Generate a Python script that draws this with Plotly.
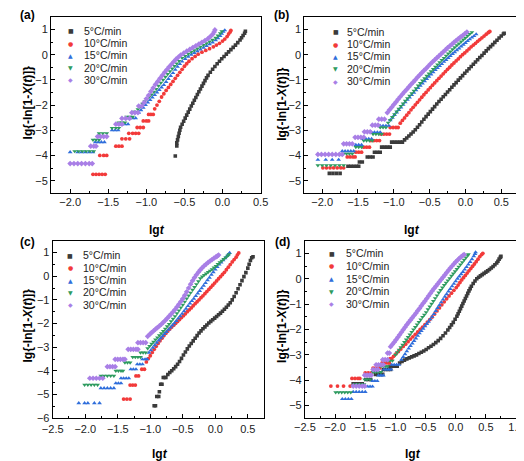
import plotly.graph_objects as go

# ---------------- data (lg t , lg{-ln[1-X(t)]}) ----------------
rates = ["5", "10", "15", "20", "30"]

a05 = [(-0.62,-4.02),(-0.60,-3.62),(-0.60,-3.50),(-0.59,-3.38),(-0.58,-3.25),(-0.57,-3.12),(-0.56,-3.00),(-0.55,-2.88),(-0.53,-2.76),(-0.51,-2.64),(-0.49,-2.52),(-0.47,-2.40),(-0.45,-2.28),(-0.43,-2.16),(-0.41,-2.04),(-0.39,-1.93),(-0.37,-1.81),(-0.35,-1.70),(-0.33,-1.58),(-0.31,-1.47),(-0.29,-1.36),(-0.27,-1.25),(-0.25,-1.14),(-0.23,-1.03),(-0.21,-0.92),(-0.19,-0.82),(-0.16,-0.70),(-0.13,-0.58),(-0.10,-0.47),(-0.07,-0.36),(-0.04,-0.26),(-0.01,-0.16),(0.02,-0.07),(0.05,0.02),(0.08,0.11),(0.11,0.20),(0.14,0.29),(0.17,0.38),(0.20,0.48),(0.23,0.58),(0.25,0.67),(0.27,0.76),(0.29,0.85),(0.30,0.93)]
a10 = [(-1.70,-4.75),(-1.66,-4.75),(-1.62,-4.75),(-1.58,-4.75),(-1.54,-4.75),(-1.61,-4.00),(-1.56,-4.00),(-1.52,-4.00),(-1.40,-3.63),(-1.36,-3.63),(-1.32,-3.63),(-1.32,-3.34),(-1.27,-3.34),(-1.22,-3.34),(-1.23,-3.12),(-1.18,-3.12),(-1.14,-3.12),(-1.10,-3.12),(-1.12,-2.89),(-1.08,-2.89),(-1.04,-2.89),(-1.04,-2.63),(-1.00,-2.63),(-0.97,-2.63),(-0.97,-2.37),(-0.94,-2.37),(-0.91,-2.37),(-0.89,-2.15),(-0.86,-2.00),(-0.83,-1.85),(-0.80,-1.68),(-0.77,-1.55),(-0.74,-1.42),(-0.71,-1.30),(-0.68,-1.18),(-0.65,-1.06),(-0.62,-0.94),(-0.59,-0.82),(-0.56,-0.70),(-0.53,-0.58),(-0.50,-0.46),(-0.47,-0.36),(-0.44,-0.26),(-0.40,-0.16),(-0.36,-0.07),(-0.32,0.02),(-0.27,0.10),(-0.22,0.17),(-0.17,0.24),(-0.12,0.31),(-0.08,0.38),(-0.04,0.45),(0.00,0.54),(0.03,0.62),(0.06,0.72),(0.08,0.82),(0.10,0.90),(0.11,0.96)]
a15 = [(-2.00,-3.87),(-1.90,-3.87),(-1.85,-3.87),(-1.80,-3.87),(-1.75,-3.87),(-1.70,-3.87),(-1.67,-3.47),(-1.63,-3.47),(-1.59,-3.47),(-1.55,-3.47),(-1.45,-3.00),(-1.41,-3.00),(-1.37,-3.00),(-1.36,-2.76),(-1.32,-2.76),(-1.28,-2.76),(-1.24,-2.76),(-1.22,-2.52),(-1.18,-2.52),(-1.14,-2.52),(-1.10,-2.30),(-1.07,-2.20),(-1.04,-2.10),(-1.01,-2.00),(-0.98,-1.90),(-0.95,-1.80),(-0.92,-1.70),(-0.89,-1.60),(-0.86,-1.50),(-0.83,-1.40),(-0.80,-1.30),(-0.77,-1.20),(-0.74,-1.08),(-0.71,-0.96),(-0.68,-0.84),(-0.65,-0.73),(-0.62,-0.60),(-0.59,-0.48),(-0.56,-0.37),(-0.53,-0.27),(-0.49,-0.17),(-0.45,-0.08),(-0.41,0.00),(-0.37,0.07),(-0.33,0.14),(-0.29,0.21),(-0.25,0.28),(-0.21,0.35),(-0.17,0.42),(-0.13,0.49),(-0.09,0.57),(-0.06,0.65),(-0.03,0.74),(-0.01,0.83),(0.01,0.91),(0.03,0.97)]
a20 = [(-1.94,-3.83),(-1.89,-3.83),(-1.84,-3.83),(-1.79,-3.83),(-1.74,-3.83),(-1.69,-3.83),(-1.70,-3.38),(-1.66,-3.38),(-1.62,-3.38),(-1.62,-3.12),(-1.57,-3.12),(-1.52,-3.12),(-1.45,-2.91),(-1.40,-2.91),(-1.36,-2.91),(-1.36,-2.69),(-1.32,-2.69),(-1.28,-2.69),(-1.26,-2.47),(-1.22,-2.47),(-1.18,-2.47),(-1.17,-2.27),(-1.14,-2.27),(-1.11,-2.17),(-1.08,-2.05),(-1.05,-1.95),(-1.02,-1.85),(-0.99,-1.76),(-0.96,-1.67),(-0.93,-1.58),(-0.90,-1.47),(-0.87,-1.36),(-0.84,-1.24),(-0.81,-1.12),(-0.78,-1.00),(-0.75,-0.88),(-0.72,-0.77),(-0.69,-0.66),(-0.66,-0.55),(-0.63,-0.45),(-0.60,-0.35),(-0.57,-0.25),(-0.53,-0.13),(-0.49,-0.05),(-0.45,0.03),(-0.41,0.10),(-0.37,0.17),(-0.33,0.24),(-0.29,0.31),(-0.25,0.38),(-0.21,0.45),(-0.17,0.52),(-0.13,0.59),(-0.09,0.67),(-0.06,0.76),(-0.03,0.85),(-0.01,0.93)]
a30 = [(-2.00,-4.32),(-1.95,-4.32),(-1.90,-4.32),(-1.85,-4.32),(-1.80,-4.32),(-1.75,-4.32),(-1.71,-4.32),(-1.73,-3.63),(-1.69,-3.63),(-1.66,-3.63),(-1.64,-3.25),(-1.60,-3.25),(-1.56,-3.25),(-1.52,-3.25),(-1.40,-2.76),(-1.36,-2.76),(-1.32,-2.76),(-1.32,-2.53),(-1.27,-2.53),(-1.22,-2.53),(-1.19,-2.30),(-1.15,-2.30),(-1.11,-2.30),(-1.10,-2.04),(-1.06,-2.04),(-1.03,-1.90),(-1.00,-1.75),(-0.97,-1.61),(-0.94,-1.46),(-0.91,-1.32),(-0.88,-1.18),(-0.85,-1.06),(-0.82,-0.94),(-0.79,-0.82),(-0.76,-0.70),(-0.73,-0.59),(-0.70,-0.48),(-0.67,-0.38),(-0.64,-0.28),(-0.61,-0.18),(-0.58,-0.10),(-0.55,-0.02),(-0.51,0.06),(-0.47,0.14),(-0.43,0.21),(-0.39,0.28),(-0.35,0.35),(-0.31,0.42),(-0.27,0.49),(-0.23,0.56),(-0.19,0.64),(-0.16,0.72),(-0.13,0.81),(-0.11,0.90),(-0.10,0.98)]

b05 = [(-1.90,-4.71),(-1.85,-4.71),(-1.80,-4.71),(-1.75,-4.71),(-1.64,-4.43),(-1.60,-4.43),(-1.56,-4.43),(-1.52,-4.43),(-1.49,-4.43),(-1.48,-4.26),(-1.44,-4.26),(-1.37,-4.06),(-1.33,-4.06),(-1.29,-4.06),(-1.27,-3.87),(-1.23,-3.87),(-1.19,-3.87),(-1.17,-3.67),(-1.13,-3.67),(-1.09,-3.67),(-1.05,-3.67),(-1.03,-3.47),(-0.99,-3.47),(-0.95,-3.47),(-0.91,-3.47),(-0.88,-3.47),(-0.85,-3.38),(-0.82,-3.31),(-0.79,-3.23),(-0.76,-3.15),(-0.73,-3.07),(-0.70,-2.98),(-0.67,-2.88),(-0.64,-2.78),(-0.61,-2.67),(-0.58,-2.56),(-0.55,-2.46),(-0.52,-2.36),(-0.49,-2.26),(-0.46,-2.16),(-0.43,-2.06),(-0.40,-1.96),(-0.37,-1.86),(-0.34,-1.77),(-0.31,-1.67),(-0.28,-1.58),(-0.25,-1.48),(-0.22,-1.39),(-0.19,-1.29),(-0.16,-1.20),(-0.13,-1.11),(-0.10,-1.01),(-0.07,-0.92),(-0.04,-0.83),(-0.01,-0.74),(0.02,-0.65),(0.05,-0.56),(0.08,-0.47),(0.11,-0.38),(0.14,-0.29),(0.17,-0.20),(0.20,-0.11),(0.23,-0.03),(0.26,0.06),(0.29,0.15),(0.32,0.24),(0.35,0.32),(0.38,0.40),(0.41,0.49),(0.44,0.57),(0.47,0.66),(0.50,0.74),(0.53,0.82),(0.54,0.85)]
b10 = [(-1.99,-4.49),(-1.94,-4.49),(-1.89,-4.49),(-1.84,-4.49),(-1.79,-4.49),(-1.74,-4.49),(-1.70,-4.49),(-1.65,-4.06),(-1.61,-4.06),(-1.57,-4.06),(-1.54,-4.06),(-1.53,-3.87),(-1.49,-3.87),(-1.45,-3.87),(-1.42,-3.67),(-1.38,-3.67),(-1.34,-3.67),(-1.32,-3.41),(-1.28,-3.41),(-1.24,-3.41),(-1.20,-3.41),(-1.18,-3.15),(-1.14,-3.15),(-1.10,-3.15),(-1.06,-3.15),(-1.05,-2.89),(-1.01,-2.89),(-0.97,-2.89),(-0.94,-2.89),(-0.91,-2.72),(-0.88,-2.61),(-0.85,-2.51),(-0.82,-2.40),(-0.79,-2.30),(-0.76,-2.19),(-0.73,-2.09),(-0.70,-1.99),(-0.67,-1.89),(-0.64,-1.79),(-0.61,-1.69),(-0.58,-1.59),(-0.55,-1.50),(-0.52,-1.40),(-0.49,-1.31),(-0.46,-1.21),(-0.43,-1.12),(-0.40,-1.03),(-0.37,-0.94),(-0.34,-0.85),(-0.31,-0.76),(-0.28,-0.67),(-0.25,-0.58),(-0.22,-0.50),(-0.19,-0.41),(-0.16,-0.33),(-0.13,-0.25),(-0.10,-0.17),(-0.07,-0.08),(-0.04,0.00),(-0.01,0.07),(0.02,0.15),(0.05,0.23),(0.08,0.31),(0.11,0.38),(0.14,0.45),(0.17,0.53),(0.20,0.60),(0.23,0.67),(0.26,0.74),(0.29,0.81),(0.32,0.88),(0.34,0.92)]
b15 = [(-2.06,-4.17),(-1.95,-4.17),(-1.86,-4.17),(-1.77,-4.17),(-1.72,-3.83),(-1.68,-3.83),(-1.64,-3.83),(-1.60,-3.83),(-1.56,-3.83),(-1.53,-3.58),(-1.49,-3.58),(-1.45,-3.58),(-1.43,-3.34),(-1.39,-3.34),(-1.35,-3.34),(-1.31,-3.34),(-1.31,-3.08),(-1.27,-3.08),(-1.23,-3.08),(-1.19,-3.08),(-1.19,-2.82),(-1.15,-2.82),(-1.11,-2.82),(-1.07,-2.82),(-1.05,-2.60),(-1.02,-2.50),(-0.99,-2.39),(-0.96,-2.29),(-0.93,-2.19),(-0.90,-2.09),(-0.87,-1.99),(-0.84,-1.89),(-0.81,-1.79),(-0.78,-1.70),(-0.75,-1.60),(-0.72,-1.51),(-0.69,-1.41),(-0.66,-1.32),(-0.63,-1.23),(-0.60,-1.14),(-0.57,-1.05),(-0.54,-0.96),(-0.51,-0.87),(-0.48,-0.78),(-0.45,-0.70),(-0.42,-0.61),(-0.39,-0.53),(-0.36,-0.45),(-0.33,-0.37),(-0.30,-0.28),(-0.27,-0.21),(-0.24,-0.13),(-0.21,-0.05),(-0.18,0.03),(-0.15,0.10),(-0.12,0.18),(-0.09,0.25),(-0.06,0.33),(-0.03,0.40),(0.00,0.47),(0.03,0.54),(0.06,0.61),(0.09,0.68),(0.12,0.74),(0.15,0.81)]
b20 = [(-2.06,-4.39),(-2.00,-4.39),(-1.94,-4.39),(-1.88,-4.39),(-1.82,-4.39),(-1.76,-4.39),(-1.70,-4.39),(-1.70,-3.93),(-1.66,-3.93),(-1.62,-3.93),(-1.58,-3.93),(-1.53,-3.67),(-1.49,-3.67),(-1.45,-3.67),(-1.42,-3.41),(-1.38,-3.41),(-1.34,-3.41),(-1.30,-3.41),(-1.29,-3.15),(-1.25,-3.15),(-1.21,-3.15),(-1.17,-3.15),(-1.19,-2.89),(-1.15,-2.89),(-1.11,-2.89),(-1.08,-2.70),(-1.05,-2.59),(-1.02,-2.48),(-0.99,-2.37),(-0.96,-2.26),(-0.93,-2.15),(-0.90,-2.04),(-0.87,-1.94),(-0.84,-1.83),(-0.81,-1.73),(-0.78,-1.63),(-0.75,-1.53),(-0.72,-1.43),(-0.69,-1.33),(-0.66,-1.23),(-0.63,-1.13),(-0.60,-1.03),(-0.57,-0.94),(-0.54,-0.84),(-0.51,-0.75),(-0.48,-0.66),(-0.45,-0.57),(-0.42,-0.48),(-0.39,-0.39),(-0.36,-0.30),(-0.33,-0.21),(-0.30,-0.13),(-0.27,-0.04),(-0.24,0.04),(-0.21,0.12),(-0.18,0.21),(-0.15,0.29),(-0.12,0.37),(-0.09,0.44),(-0.06,0.52),(-0.03,0.60),(0.00,0.67),(0.03,0.75),(0.06,0.82),(0.09,0.89)]
b30 = [(-2.06,-3.96),(-2.01,-3.96),(-1.96,-3.96),(-1.91,-3.96),(-1.86,-3.96),(-1.81,-3.96),(-1.76,-3.96),(-1.72,-3.96),(-1.70,-3.54),(-1.66,-3.54),(-1.62,-3.54),(-1.58,-3.54),(-1.54,-3.28),(-1.50,-3.28),(-1.46,-3.28),(-1.42,-3.28),(-1.41,-3.06),(-1.37,-3.06),(-1.33,-3.06),(-1.30,-2.80),(-1.26,-2.80),(-1.22,-2.80),(-1.21,-2.56),(-1.17,-2.56),(-1.13,-2.56),(-1.09,-2.30),(-1.06,-2.19),(-1.03,-2.09),(-1.00,-1.98),(-0.97,-1.88),(-0.94,-1.77),(-0.91,-1.67),(-0.88,-1.57),(-0.85,-1.47),(-0.82,-1.38),(-0.79,-1.28),(-0.76,-1.18),(-0.73,-1.09),(-0.70,-1.00),(-0.67,-0.90),(-0.64,-0.81),(-0.61,-0.72),(-0.58,-0.63),(-0.55,-0.55),(-0.52,-0.46),(-0.49,-0.37),(-0.46,-0.29),(-0.43,-0.21),(-0.40,-0.13),(-0.37,-0.05),(-0.34,0.03),(-0.31,0.11),(-0.28,0.19),(-0.25,0.27),(-0.22,0.34),(-0.19,0.41),(-0.16,0.49),(-0.13,0.56),(-0.10,0.63),(-0.07,0.70),(-0.04,0.76),(-0.01,0.83),(0.02,0.90)]

c05 = [(-0.94,-5.47),(-0.92,-5.47),(-0.90,-5.08),(-0.87,-5.08),(-0.86,-4.88),(-0.84,-4.56),(-0.82,-4.56),(-0.80,-4.28),(-0.78,-4.28),(-0.76,-4.28),(-0.73,-4.15),(-0.70,-4.07),(-0.67,-3.99),(-0.64,-3.91),(-0.61,-3.82),(-0.58,-3.72),(-0.55,-3.60),(-0.52,-3.47),(-0.49,-3.33),(-0.46,-3.20),(-0.43,-3.07),(-0.40,-2.95),(-0.37,-2.84),(-0.34,-2.73),(-0.31,-2.62),(-0.28,-2.51),(-0.25,-2.40),(-0.22,-2.31),(-0.19,-2.22),(-0.16,-2.14),(-0.13,-2.06),(-0.10,-1.98),(-0.07,-1.91),(-0.04,-1.84),(-0.01,-1.77),(0.02,-1.70),(0.05,-1.63),(0.08,-1.56),(0.11,-1.48),(0.14,-1.40),(0.17,-1.31),(0.20,-1.22),(0.23,-1.12),(0.26,-1.00),(0.29,-0.86),(0.32,-0.70),(0.35,-0.53),(0.38,-0.36),(0.41,-0.19),(0.44,-0.02),(0.47,0.15),(0.50,0.34),(0.52,0.50),(0.54,0.66),(0.56,0.78),(0.58,0.82)]
c10 = [(-1.41,-5.19),(-1.36,-5.19),(-1.31,-5.19),(-1.31,-4.60),(-1.27,-4.60),(-1.23,-4.60),(-1.22,-4.21),(-1.18,-4.21),(-1.13,-3.93),(-1.09,-3.93),(-1.06,-3.62),(-1.03,-3.48),(-1.00,-3.36),(-0.97,-3.22),(-0.94,-3.09),(-0.91,-2.96),(-0.88,-2.84),(-0.85,-2.73),(-0.82,-2.62),(-0.79,-2.51),(-0.76,-2.41),(-0.73,-2.32),(-0.70,-2.23),(-0.67,-2.15),(-0.64,-2.07),(-0.61,-1.99),(-0.58,-1.91),(-0.55,-1.83),(-0.52,-1.75),(-0.49,-1.67),(-0.46,-1.59),(-0.43,-1.50),(-0.40,-1.42),(-0.37,-1.34),(-0.34,-1.25),(-0.31,-1.16),(-0.28,-1.08),(-0.25,-1.00),(-0.22,-0.91),(-0.19,-0.83),(-0.16,-0.74),(-0.13,-0.65),(-0.10,-0.56),(-0.07,-0.47),(-0.04,-0.38),(-0.01,-0.29),(0.02,-0.20),(0.05,-0.11),(0.08,-0.02),(0.11,0.07),(0.14,0.16),(0.17,0.27),(0.20,0.38),(0.23,0.49),(0.26,0.60),(0.29,0.70),(0.32,0.80),(0.34,0.90),(0.36,0.98)]
c15 = [(-2.10,-5.36),(-2.01,-5.36),(-1.96,-5.36),(-1.86,-5.36),(-1.78,-5.36),(-1.76,-4.73),(-1.71,-4.73),(-1.66,-4.73),(-1.61,-4.73),(-1.56,-4.73),(-1.53,-4.52),(-1.49,-4.52),(-1.45,-4.52),(-1.45,-4.31),(-1.41,-4.31),(-1.37,-4.31),(-1.33,-4.31),(-1.30,-3.93),(-1.26,-3.93),(-1.22,-3.93),(-1.20,-3.72),(-1.16,-3.72),(-1.12,-3.72),(-1.12,-3.51),(-1.08,-3.51),(-1.05,-3.51),(-1.02,-3.23),(-0.99,-3.13),(-0.96,-3.02),(-0.93,-2.91),(-0.90,-2.81),(-0.87,-2.71),(-0.84,-2.62),(-0.81,-2.53),(-0.78,-2.44),(-0.75,-2.35),(-0.72,-2.26),(-0.69,-2.17),(-0.66,-2.08),(-0.63,-1.99),(-0.60,-1.89),(-0.57,-1.79),(-0.54,-1.69),(-0.51,-1.59),(-0.48,-1.48),(-0.45,-1.37),(-0.42,-1.26),(-0.39,-1.15),(-0.36,-1.05),(-0.33,-0.95),(-0.30,-0.84),(-0.27,-0.73),(-0.24,-0.62),(-0.21,-0.51),(-0.18,-0.40),(-0.15,-0.29),(-0.12,-0.17),(-0.09,-0.06),(-0.06,0.06),(-0.03,0.17),(0.00,0.28),(0.03,0.39),(0.06,0.49),(0.09,0.58),(0.12,0.67),(0.15,0.76),(0.18,0.85),(0.20,0.92),(0.22,0.98)]
c20 = [(-2.01,-4.59),(-1.96,-4.59),(-1.91,-4.59),(-1.86,-4.59),(-1.81,-4.59),(-1.76,-4.21),(-1.71,-4.21),(-1.66,-4.21),(-1.61,-4.21),(-1.56,-4.21),(-1.53,-4.00),(-1.49,-4.00),(-1.45,-4.00),(-1.42,-4.00),(-1.39,-3.65),(-1.35,-3.65),(-1.31,-3.65),(-1.27,-3.42),(-1.23,-3.42),(-1.19,-3.42),(-1.15,-3.42),(-1.15,-3.23),(-1.11,-3.23),(-1.07,-3.23),(-1.04,-3.05),(-1.01,-2.95),(-0.98,-2.86),(-0.95,-2.77),(-0.92,-2.68),(-0.89,-2.59),(-0.86,-2.50),(-0.83,-2.41),(-0.80,-2.32),(-0.77,-2.22),(-0.74,-2.12),(-0.71,-2.02),(-0.68,-1.91),(-0.65,-1.80),(-0.62,-1.69),(-0.59,-1.57),(-0.56,-1.45),(-0.53,-1.33),(-0.50,-1.21),(-0.47,-1.08),(-0.44,-0.95),(-0.41,-0.82),(-0.38,-0.70),(-0.35,-0.58),(-0.32,-0.46),(-0.29,-0.34),(-0.26,-0.22),(-0.23,-0.09),(-0.20,-0.02),(-0.17,0.05),(-0.14,0.11),(-0.11,0.17),(-0.08,0.23),(-0.05,0.29),(-0.02,0.36),(0.01,0.43),(0.04,0.51),(0.07,0.58),(0.10,0.65),(0.13,0.72),(0.16,0.79),(0.19,0.86),(0.21,0.92)]
c30 = [(-1.93,-4.31),(-1.88,-4.31),(-1.83,-4.31),(-1.78,-4.31),(-1.73,-4.31),(-1.66,-3.82),(-1.62,-3.82),(-1.58,-3.82),(-1.54,-3.82),(-1.54,-3.51),(-1.50,-3.51),(-1.46,-3.51),(-1.42,-3.51),(-1.39,-3.51),(-1.34,-3.09),(-1.30,-3.09),(-1.26,-3.09),(-1.22,-3.09),(-1.19,-3.09),(-1.19,-2.81),(-1.15,-2.81),(-1.11,-2.81),(-1.07,-2.81),(-1.04,-2.54),(-1.01,-2.46),(-0.98,-2.38),(-0.95,-2.31),(-0.92,-2.24),(-0.89,-2.17),(-0.86,-2.10),(-0.83,-2.03),(-0.80,-1.95),(-0.77,-1.87),(-0.74,-1.78),(-0.71,-1.69),(-0.68,-1.60),(-0.65,-1.51),(-0.62,-1.41),(-0.59,-1.30),(-0.56,-1.19),(-0.53,-1.07),(-0.50,-0.95),(-0.47,-0.81),(-0.44,-0.66),(-0.41,-0.50),(-0.38,-0.34),(-0.35,-0.19),(-0.32,-0.06),(-0.29,0.06),(-0.26,0.17),(-0.23,0.27),(-0.20,0.36),(-0.17,0.44),(-0.14,0.51),(-0.11,0.58),(-0.08,0.64),(-0.05,0.70),(-0.02,0.76),(0.01,0.81),(0.03,0.85),(0.05,0.89)]

d05 = [(-1.70,-4.14),(-1.65,-4.14),(-1.60,-4.14),(-1.55,-4.14),(-1.49,-3.97),(-1.45,-3.97),(-1.41,-3.97),(-1.33,-3.77),(-1.29,-3.77),(-1.25,-3.77),(-1.21,-3.77),(-1.20,-3.58),(-1.16,-3.58),(-1.12,-3.58),(-1.08,-3.58),(-1.09,-3.45),(-1.05,-3.45),(-1.01,-3.45),(-0.97,-3.45),(-0.93,-3.32),(-0.89,-3.26),(-0.85,-3.21),(-0.81,-3.16),(-0.77,-3.12),(-0.73,-3.08),(-0.69,-3.04),(-0.65,-3.00),(-0.61,-2.95),(-0.57,-2.90),(-0.53,-2.85),(-0.49,-2.79),(-0.45,-2.72),(-0.41,-2.66),(-0.37,-2.59),(-0.33,-2.52),(-0.29,-2.44),(-0.25,-2.35),(-0.21,-2.25),(-0.17,-2.14),(-0.13,-2.02),(-0.10,-1.92),(-0.07,-1.82),(-0.04,-1.72),(-0.01,-1.60),(0.02,-1.48),(0.04,-1.38),(0.06,-1.28),(0.08,-1.18),(0.10,-1.08),(0.12,-0.98),(0.14,-0.88),(0.16,-0.78),(0.18,-0.68),(0.20,-0.58),(0.22,-0.48),(0.24,-0.39),(0.26,-0.30),(0.29,-0.19),(0.32,-0.09),(0.35,0.00),(0.38,0.06),(0.41,0.11),(0.44,0.16),(0.47,0.21),(0.50,0.26),(0.53,0.31),(0.56,0.36),(0.59,0.42),(0.62,0.48),(0.65,0.55),(0.68,0.62),(0.70,0.69),(0.72,0.77),(0.74,0.84),(0.75,0.88)]
d10 = [(-2.07,-4.23),(-1.96,-4.23),(-1.86,-4.23),(-1.75,-4.23),(-1.72,-3.93),(-1.67,-3.93),(-1.62,-3.93),(-1.59,-3.93),(-1.50,-3.71),(-1.45,-3.71),(-1.40,-3.71),(-1.37,-3.52),(-1.33,-3.52),(-1.29,-3.52),(-1.26,-3.52),(-1.22,-3.32),(-1.18,-3.32),(-1.14,-3.32),(-1.10,-3.32),(-1.09,-3.15),(-1.06,-3.15),(-1.03,-3.06),(-0.99,-2.96),(-0.95,-2.87),(-0.91,-2.77),(-0.87,-2.67),(-0.83,-2.58),(-0.79,-2.48),(-0.75,-2.38),(-0.71,-2.29),(-0.67,-2.19),(-0.63,-2.10),(-0.59,-2.00),(-0.55,-1.91),(-0.51,-1.81),(-0.47,-1.71),(-0.43,-1.61),(-0.39,-1.51),(-0.35,-1.39),(-0.31,-1.27),(-0.27,-1.15),(-0.23,-1.03),(-0.19,-0.91),(-0.15,-0.79),(-0.11,-0.68),(-0.07,-0.57),(-0.03,-0.46),(0.01,-0.35),(0.04,-0.25),(0.07,-0.15),(0.10,-0.05),(0.13,0.04),(0.16,0.13),(0.19,0.22),(0.22,0.31),(0.25,0.40),(0.28,0.49),(0.31,0.58),(0.34,0.67),(0.37,0.77),(0.40,0.87),(0.43,0.95),(0.45,1.00)]
d15 = [(-1.88,-4.74),(-1.83,-4.74),(-1.78,-4.74),(-1.73,-4.74),(-1.70,-4.46),(-1.65,-4.46),(-1.60,-4.46),(-1.55,-4.46),(-1.50,-4.46),(-1.46,-4.25),(-1.42,-4.25),(-1.38,-4.25),(-1.38,-4.03),(-1.34,-4.03),(-1.30,-4.03),(-1.28,-3.81),(-1.24,-3.81),(-1.20,-3.81),(-1.19,-3.58),(-1.15,-3.58),(-1.11,-3.58),(-1.07,-3.58),(-1.06,-3.39),(-1.02,-3.39),(-0.98,-3.39),(-0.94,-3.39),(-0.90,-3.19),(-0.87,-3.08),(-0.84,-2.97),(-0.81,-2.86),(-0.78,-2.75),(-0.75,-2.65),(-0.72,-2.55),(-0.69,-2.45),(-0.66,-2.35),(-0.63,-2.25),(-0.60,-2.15),(-0.57,-2.06),(-0.54,-1.97),(-0.51,-1.87),(-0.48,-1.78),(-0.45,-1.69),(-0.42,-1.60),(-0.39,-1.50),(-0.36,-1.39),(-0.33,-1.27),(-0.30,-1.15),(-0.27,-1.04),(-0.24,-0.93),(-0.21,-0.82),(-0.18,-0.71),(-0.15,-0.61),(-0.12,-0.50),(-0.09,-0.40),(-0.06,-0.30),(-0.03,-0.20),(0.00,-0.10),(0.03,0.00),(0.06,0.09),(0.09,0.18),(0.12,0.27),(0.15,0.36),(0.18,0.46),(0.21,0.56),(0.24,0.66),(0.27,0.77),(0.30,0.89),(0.32,0.98),(0.33,1.04)]
d20 = [(-1.99,-4.48),(-1.94,-4.48),(-1.89,-4.48),(-1.84,-4.48),(-1.79,-4.48),(-1.74,-4.48),(-1.67,-4.16),(-1.62,-4.16),(-1.57,-4.16),(-1.52,-4.16),(-1.51,-3.97),(-1.47,-3.97),(-1.42,-3.97),(-1.37,-3.68),(-1.33,-3.68),(-1.29,-3.68),(-1.24,-3.68),(-1.24,-3.45),(-1.20,-3.45),(-1.16,-3.45),(-1.13,-3.45),(-1.13,-3.23),(-1.09,-3.23),(-1.05,-3.23),(-1.00,-3.00),(-0.97,-2.90),(-0.94,-2.80),(-0.91,-2.70),(-0.88,-2.60),(-0.85,-2.50),(-0.82,-2.40),(-0.79,-2.30),(-0.76,-2.20),(-0.73,-2.10),(-0.70,-2.00),(-0.67,-1.91),(-0.64,-1.81),(-0.61,-1.71),(-0.58,-1.61),(-0.55,-1.51),(-0.52,-1.42),(-0.49,-1.32),(-0.46,-1.21),(-0.43,-1.10),(-0.40,-0.99),(-0.37,-0.88),(-0.34,-0.77),(-0.31,-0.66),(-0.28,-0.55),(-0.25,-0.45),(-0.22,-0.35),(-0.19,-0.25),(-0.16,-0.16),(-0.13,-0.07),(-0.10,0.02),(-0.07,0.11),(-0.04,0.20),(-0.01,0.29),(0.02,0.38),(0.05,0.47),(0.08,0.56),(0.11,0.65),(0.14,0.74),(0.17,0.83),(0.20,0.92),(0.21,0.96)]
d30 = [(-1.70,-4.23),(-1.65,-4.23),(-1.60,-4.23),(-1.55,-4.23),(-1.51,-4.23),(-1.51,-3.80),(-1.47,-3.80),(-1.43,-3.80),(-1.40,-3.80),(-1.37,-3.58),(-1.33,-3.58),(-1.29,-3.58),(-1.32,-3.39),(-1.28,-3.39),(-1.24,-3.39),(-1.20,-3.39),(-1.21,-3.19),(-1.17,-3.19),(-1.13,-3.19),(-1.13,-2.93),(-1.10,-2.93),(-1.08,-2.68),(-1.05,-2.59),(-1.02,-2.50),(-0.99,-2.41),(-0.96,-2.31),(-0.93,-2.21),(-0.90,-2.11),(-0.87,-2.01),(-0.84,-1.91),(-0.81,-1.81),(-0.78,-1.72),(-0.75,-1.63),(-0.72,-1.54),(-0.69,-1.45),(-0.66,-1.36),(-0.63,-1.26),(-0.60,-1.17),(-0.57,-1.07),(-0.54,-0.97),(-0.51,-0.88),(-0.48,-0.78),(-0.45,-0.68),(-0.42,-0.58),(-0.39,-0.48),(-0.36,-0.39),(-0.33,-0.30),(-0.30,-0.21),(-0.27,-0.12),(-0.24,-0.03),(-0.21,0.06),(-0.18,0.15),(-0.15,0.24),(-0.12,0.33),(-0.09,0.42),(-0.06,0.50),(-0.03,0.58),(0.00,0.66),(0.03,0.73),(0.06,0.80),(0.09,0.86),(0.12,0.92),(0.14,0.95)]

panel_series = {"a": [a05, a10, a15, a20, a30], "b": [b05, b10, b15, b20, b30],
                "c": [c05, c10, c15, c20, c30], "d": [d05, d10, d15, d20, d30]}

x_ranges = {"a": [-2.25, 0.5], "b": [-2.25, 0.75], "c": [-2.5, 0.75], "d": [-2.5, 1.0]}
y_ranges = {"a": [-5.5, 1.5], "b": [-5.5, 1.5], "c": [-6.0, 1.5], "d": [-5.5, 1.5]}

# ---------------- styling ----------------
W, H = 524, 461
colors = ["#3b3b3b", "#f23a3a", "#2f6edb", "#2e9b5f", "#a97fe6"]
symbols = ["square", "circle", "triangle-up", "triangle-down", "diamond"]
sizes = [3.6, 3.8, 4.2, 4.2, 4.4]
glyphs = ["\u25A0", "\u25CF", "\u25B2", "\u25BC", "\u25C6"]
FONT = "Arial, Liberation Sans, Helvetica, sans-serif"

# plot-area boxes in pixels: left, right, top, bottom
boxes = {"a": (33.3, 250.7, 9.0, 187.7), "b": (296.0, 519.0, 9.0, 187.7),
         "c": (35.0, 254.3, 235.7, 415.7), "d": (296.7, 515.7, 235.7, 415.7)}
x_label_standoff = {"a": -2, "b": -2, "c": 0, "d": -2}

def px(x):
    return x / W

def py(y):
    return 1 - y / H

fig = go.Figure()
layout = dict(width=W, height=H, margin=dict(l=0, r=0, t=0, b=0),
              paper_bgcolor="white", plot_bgcolor="white", showlegend=False,
              font=dict(family=FONT, color="#222"))
annotations = []

for i, key in enumerate(["a", "b", "c", "d"]):
    n = "" if i == 0 else str(i + 1)
    L, R, T, B = boxes[key]
    for j, pts in enumerate(panel_series[key]):
        fig.add_trace(go.Scatter(
            x=[p[0] for p in pts], y=[p[1] for p in pts], mode="markers",
            xaxis="x" + n, yaxis="y" + n, name=rates[j] + "°C/min",
            marker=dict(symbol=symbols[j], size=sizes[j], color=colors[j], line=dict(width=0))))
    axis_common = dict(showline=True, linecolor="black", linewidth=1.1, mirror=True,
                       ticks="inside", ticklen=4, tickwidth=1, tickcolor="black",
                       showgrid=False, zeroline=False,
                       tickfont=dict(family=FONT, size=11, color="#222"))
    layout["xaxis" + n] = dict(axis_common, domain=[px(L), px(R)], anchor="y" + n,
                               range=x_ranges[key], dtick=0.5, tick0=0, tickformat=".1f",
                               ticklabelstandoff=x_label_standoff[key],
                               minor=dict(dtick=0.25, ticks="inside", ticklen=2, tickcolor="black"))
    layout["yaxis" + n] = dict(axis_common, domain=[py(B), py(T)], anchor="x" + n,
                               range=y_ranges[key], dtick=1, tick0=0,
                               minor=dict(dtick=0.5, ticks="inside", ticklen=2, tickcolor="black"))

# panel labels, axis titles, legends (pixel positions)
labels = {"a": (9, 7.5), "b": (272, 7.5), "c": (9, 237), "d": (273, 237)}
xtitle = {"a": (143, 225), "b": (408, 225), "c": (146, 452), "d": (409, 452)}
ytitle = {"a": (9, 96), "b": (273, 97), "c": (9, 322), "d": (273, 322)}
legend_pos = {"a": (53.5, 66, 23.2, 12.4), "b": (328.7, 339.5, 24, 12.5),
              "c": (53.3, 65.7, 250.7, 12.5), "d": (324.3, 338, 248.3, 12.9)}

def ann(text, x, y, size, family=FONT, color="black", xanchor="center", angle=0):
    return dict(text=text, x=px(x), y=py(y), xref="paper", yref="paper", showarrow=False,
                xanchor=xanchor, yanchor="middle", textangle=angle, borderpad=0,
                font=dict(size=size, family=family, color=color))

for key in ["a", "b", "c", "d"]:
    annotations.append(ann("<b>(" + key + ")</b>", *labels[key], 12))
    annotations.append(ann("<b>lg<i>t</i></b>", *xtitle[key], 12))
    annotations.append(ann("<b>lg{-ln[1-<i>X</i>(<i>t</i>)]}</b>", *ytitle[key], 12, angle=-90))
    gx, txx, y0, dy = legend_pos[key]
    for j in range(5):
        yy_ = y0 + j * dy
        annotations.append(ann(glyphs[j], gx, yy_, 6, family="DejaVu Sans", color=colors[j]))
        annotations.append(ann(rates[j] + "°C/min", txx, yy_, 10.5, color="#222", xanchor="left"))

layout["annotations"] = annotations
fig.update_layout(**layout)
fig.write_html("out.html")
